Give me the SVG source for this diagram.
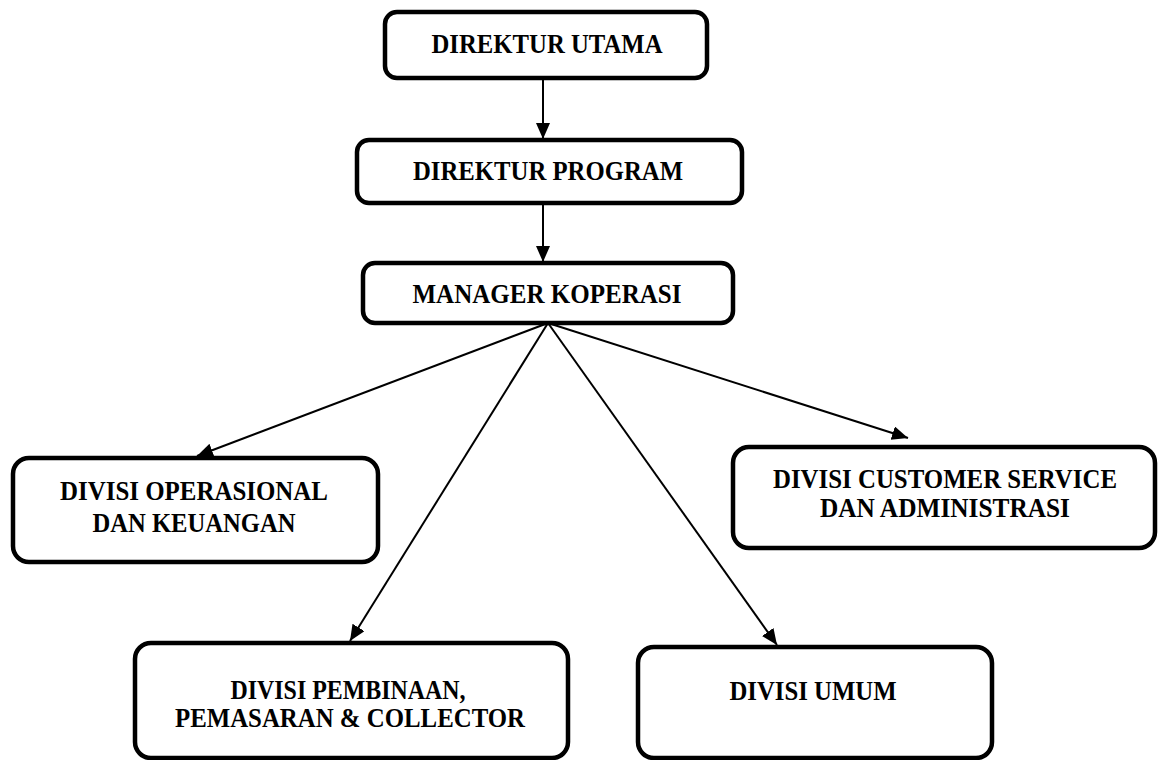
<svg xmlns="http://www.w3.org/2000/svg" width="1163" height="760" viewBox="0 0 1163 760">
<defs>
<style>
.box{fill:#fff;stroke:#000;stroke-width:4.5}
.t{font-family:"Liberation Serif",serif;font-weight:bold;font-size:28px;fill:#000;text-anchor:middle}
.c{stroke:#000;stroke-width:2;fill:none}
</style>
<marker id="ah" markerUnits="userSpaceOnUse" markerWidth="18" markerHeight="16" refX="16" refY="7" orient="auto">
<path d="M0,0 L16,7 L0,14 Z" fill="#000"/>
</marker>
</defs>
<rect width="1163" height="760" fill="#fff"/>
<g id="connectors">
<line class="c" x1="543" y1="79" x2="543" y2="139" marker-end="url(#ah)"/>
<line class="c" x1="543" y1="204" x2="543" y2="262" marker-end="url(#ah)"/>
<line class="c" x1="548" y1="323" x2="197" y2="456" marker-end="url(#ah)"/>
<line class="c" x1="548" y1="323" x2="350" y2="641" marker-end="url(#ah)"/>
<line class="c" x1="548" y1="323" x2="777" y2="645" marker-end="url(#ah)"/>
<line class="c" x1="548" y1="323" x2="908" y2="438" marker-end="url(#ah)"/>
</g>
<g id="direktur-utama">
<rect class="box" x="385" y="12" width="322" height="66" rx="12"/>
<text class="t" x="547" y="53" textLength="231" lengthAdjust="spacingAndGlyphs">DIREKTUR UTAMA</text>
</g>
<g id="direktur-program">
<rect class="box" x="357" y="140" width="385" height="63" rx="12"/>
<text class="t" x="548" y="180" textLength="270" lengthAdjust="spacingAndGlyphs">DIREKTUR PROGRAM</text>
</g>
<g id="manager-koperasi">
<rect class="box" x="363" y="263" width="370" height="60" rx="12"/>
<text class="t" x="547" y="303" textLength="269" lengthAdjust="spacingAndGlyphs">MANAGER KOPERASI</text>
</g>
<g id="divisi-operasional">
<rect class="box" x="13" y="458" width="365" height="104" rx="16"/>
<text class="t" x="194" y="500" textLength="268" lengthAdjust="spacingAndGlyphs">DIVISI OPERASIONAL</text>
<text class="t" x="194" y="532" textLength="203" lengthAdjust="spacingAndGlyphs">DAN KEUANGAN</text>
</g>
<g id="divisi-customer-service">
<rect class="box" x="733" y="447" width="422" height="101" rx="16"/>
<text class="t" x="945" y="488" textLength="344" lengthAdjust="spacingAndGlyphs">DIVISI CUSTOMER SERVICE</text>
<text class="t" x="945" y="517" textLength="250" lengthAdjust="spacingAndGlyphs">DAN ADMINISTRASI</text>
</g>
<g id="divisi-pembinaan">
<rect class="box" x="135" y="643" width="433" height="115" rx="16"/>
<text class="t" x="348" y="699" textLength="235" lengthAdjust="spacingAndGlyphs">DIVISI PEMBINAAN,</text>
<text class="t" x="350" y="727" textLength="350" lengthAdjust="spacingAndGlyphs">PEMASARAN &amp; COLLECTOR</text>
</g>
<g id="divisi-umum">
<rect class="box" x="638" y="647" width="354" height="111" rx="16"/>
<text class="t" x="813" y="700" textLength="167" lengthAdjust="spacingAndGlyphs">DIVISI UMUM</text>
</g>
</svg>
